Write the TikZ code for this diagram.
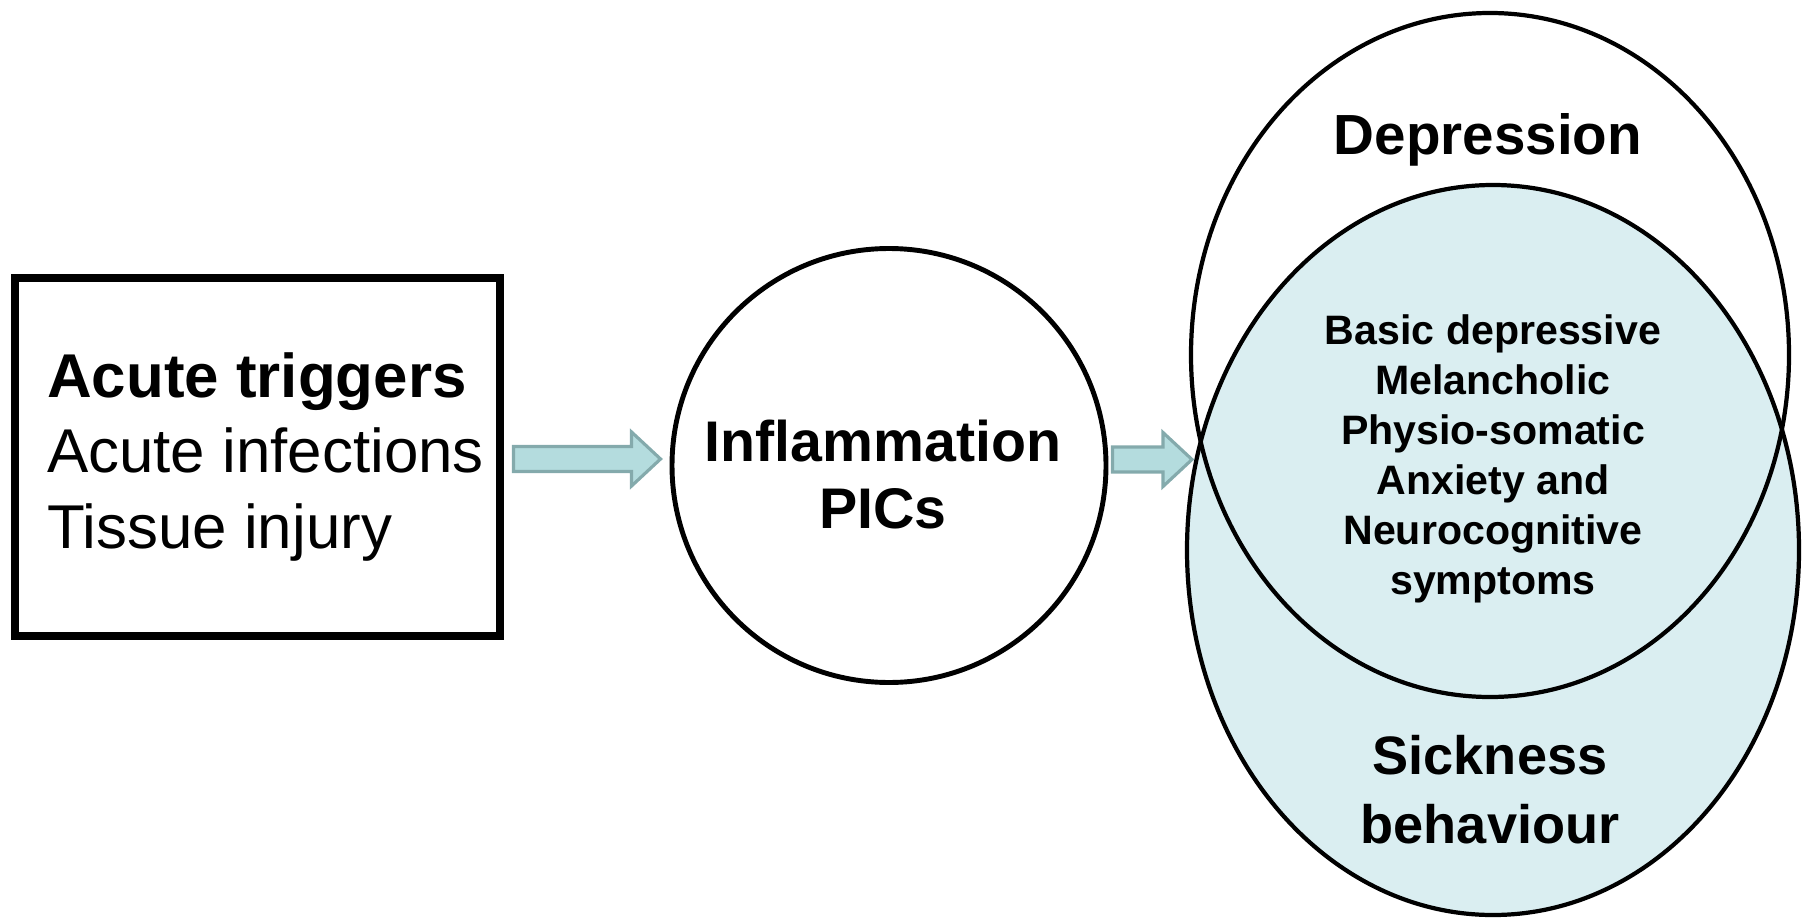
\documentclass[tikz,border=0pt]{standalone}
\usepackage{fontspec}
\setmainfont{Liberation Sans}
\usetikzlibrary{positioning,calc,shapes.geometric}

\definecolor{vennfill}{RGB}{218,238,241}
\definecolor{arrowfill}{RGB}{180,220,222}
\definecolor{arrowline}{RGB}{132,170,172}

\tikzset{
  trigbox/.style={draw, line width=2pt, minimum width=4.85cm, minimum height=3.58cm},
  inflcircle/.style={draw, circle, line width=1.4pt, minimum size=4.34cm},
  venn/.style={draw, ellipse, line width=1.2pt, inner sep=0pt},
  lbl/.style={inner sep=0pt, align=center},
  blockarrow/.style={fill=arrowfill, draw=arrowline, line width=0.9pt,
    to path={let \p1=(\tikztostart), \p2=(\tikztotarget) in
      (\x1,\y1+0.125cm) -- (\x2-0.29cm,\y1+0.125cm) -- (\x2-0.29cm,\y1+0.27cm)
      -- (\x2,\y1) -- (\x2-0.29cm,\y1-0.27cm) -- (\x2-0.29cm,\y1-0.125cm)
      -- (\x1,\y1-0.125cm) -- cycle}}
}

\begin{document}
\begin{tikzpicture}
  \useasboundingbox (0,0) rectangle (18.04,9.20);

  % triggers
  \node[trigbox] (trig) at (2.575,4.63) {};
  \node[lbl, anchor=west, align=left, font=\fontsize{17.6}{21.6}\selectfont] (trigtxt)
    at ([xshift=0.35cm]trig.west) {\textbf{Acute triggers}\\Acute infections\\Tissue injury};

  % inflammation
  \node[inflcircle] (infl) at (8.89,4.545) {};
  \node[lbl, font=\bfseries\fontsize{16.3}{19.1}\selectfont] (infltxt)
    at ([xshift=-0.06cm,yshift=-0.09cm]infl.center) {Inflammation\\PICs};

  % overlap of the two ellipses
  \node[venn, fill=vennfill, minimum width=6.12cm, minimum height=7.30cm] (sick) at (14.93,3.70) {};
  \node[venn, minimum width=5.98cm, minimum height=6.84cm] (dep) at (14.90,5.65) {};
  \coordinate (meet) at (12.00,4.70);

  \node[lbl, font=\bfseries\fontsize{16.1}{19}\selectfont] (deplbl) at (14.88,7.80) {Depression};
  \node[lbl, font=\bfseries\fontsize{11.7}{14.2}\selectfont] (both) at (14.93,4.61)
    {Basic depressive\\Melancholic\\Physio-somatic\\Anxiety and\\Neurocognitive\\symptoms};
  \node[lbl, font=\bfseries\fontsize{15.4}{19.6}\selectfont] (sicklbl) at (14.90,1.30) {Sickness\\behaviour};

  \draw[blockarrow] ($(trig.east)+(0.10,-0.02)$) to ($(infl.west)+(-0.09,0)$);
  \draw[blockarrow] ($(infl.east)+(0.04,0.06)$) to ($(meet)+(-0.08,0)$);
\end{tikzpicture}
\end{document}
